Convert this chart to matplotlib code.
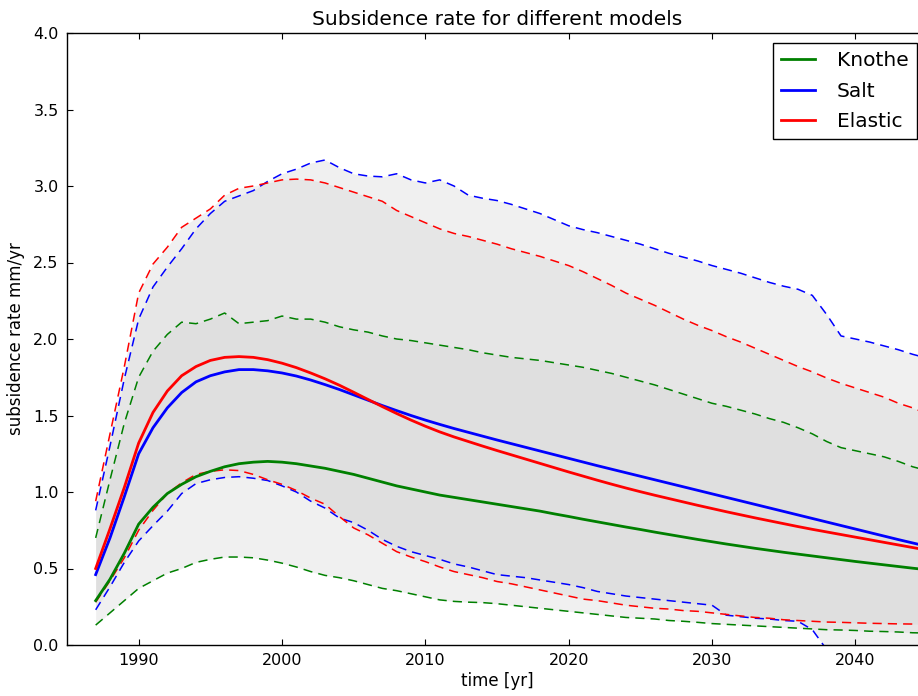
import numpy as np
import matplotlib
matplotlib.use("Agg")
import matplotlib.pyplot as plt

# Yearly subsidence rates (mm/yr), 1987-2045
years = np.arange(1987, 2046)

knothe = [0.29, 0.43, 0.60, 0.79, 0.90, 0.99, 1.05, 1.10, 1.135, 1.165,
          1.185, 1.195, 1.20, 1.195, 1.185, 1.17, 1.155, 1.135, 1.115, 1.09,
          1.065, 1.04, 1.02, 1.00, 0.98, 0.965, 0.95, 0.935, 0.92, 0.905,
          0.89, 0.875, 0.857, 0.84, 0.822, 0.805, 0.788, 0.771, 0.755, 0.738,
          0.722, 0.706, 0.69, 0.675, 0.66, 0.646, 0.632, 0.619, 0.606, 0.594,
          0.582, 0.57, 0.558, 0.546, 0.535, 0.524, 0.513, 0.502, 0.492]
knothe_lo = [0.13, 0.21, 0.29, 0.37, 0.42, 0.47, 0.50, 0.54, 0.56, 0.575,
             0.575, 0.57, 0.555, 0.535, 0.51, 0.48, 0.455, 0.44, 0.42, 0.395,
             0.37, 0.355, 0.335, 0.315, 0.295, 0.285, 0.28, 0.277, 0.27, 0.26,
             0.25, 0.24, 0.23, 0.22, 0.21, 0.20, 0.19, 0.18, 0.175, 0.17,
             0.16, 0.155, 0.148, 0.14, 0.135, 0.13, 0.125, 0.12, 0.115, 0.11,
             0.105, 0.10, 0.098, 0.095, 0.09, 0.088, 0.085, 0.08, 0.078]
knothe_hi = [0.70, 1.08, 1.45, 1.75, 1.92, 2.03, 2.11, 2.10, 2.13, 2.17,
             2.10, 2.11, 2.12, 2.15, 2.13, 2.13, 2.11, 2.08, 2.06, 2.045,
             2.02, 2.00, 1.99, 1.975, 1.96, 1.945, 1.93, 1.91, 1.895, 1.88,
             1.87, 1.86, 1.845, 1.83, 1.815, 1.795, 1.775, 1.75, 1.725, 1.70,
             1.67, 1.64, 1.61, 1.58, 1.56, 1.535, 1.51, 1.48, 1.455, 1.42,
             1.38, 1.33, 1.29, 1.27, 1.25, 1.23, 1.20, 1.165, 1.14]

salt = [0.46, 0.70, 0.97, 1.25, 1.42, 1.55, 1.65, 1.72, 1.76, 1.785,
        1.80, 1.80, 1.792, 1.778, 1.758, 1.732, 1.702, 1.67, 1.635, 1.60,
        1.565, 1.532, 1.50, 1.47, 1.442, 1.415, 1.39, 1.365, 1.34, 1.316,
        1.292, 1.268, 1.244, 1.22, 1.196, 1.172, 1.149, 1.126, 1.103, 1.08,
        1.057, 1.034, 1.011, 0.988, 0.965, 0.942, 0.919, 0.896, 0.873, 0.85,
        0.827, 0.804, 0.781, 0.758, 0.735, 0.712, 0.689, 0.667, 0.645]
salt_lo = [0.23, 0.38, 0.54, 0.68, 0.78, 0.875, 0.99, 1.055, 1.08, 1.095,
           1.10, 1.09, 1.075, 1.04, 1.00, 0.94, 0.895, 0.83, 0.80, 0.75,
           0.69, 0.645, 0.61, 0.585, 0.56, 0.53, 0.51, 0.485, 0.46, 0.45,
           0.44, 0.425, 0.41, 0.395, 0.375, 0.35, 0.335, 0.32, 0.31, 0.30,
           0.29, 0.28, 0.27, 0.26, 0.195, 0.185, 0.175, 0.17, 0.16, 0.155,
           0.10, -0.03, -0.10, -0.10, -0.10, -0.10, -0.10, -0.10, -0.10]
salt_hi = [0.88, 1.30, 1.74, 2.13, 2.34, 2.47, 2.59, 2.72, 2.82, 2.90,
           2.935, 2.97, 3.03, 3.08, 3.11, 3.15, 3.17, 3.12, 3.08, 3.065,
           3.06, 3.08, 3.04, 3.02, 3.04, 3.00, 2.94, 2.92, 2.905, 2.88,
           2.85, 2.82, 2.78, 2.74, 2.715, 2.695, 2.67, 2.645, 2.62, 2.59,
           2.56, 2.535, 2.51, 2.48, 2.455, 2.43, 2.40, 2.37, 2.345, 2.325,
           2.285, 2.16, 2.02, 2.00, 1.98, 1.955, 1.93, 1.90, 1.875]

elastic = [0.50, 0.76, 1.03, 1.32, 1.52, 1.66, 1.76, 1.82, 1.86, 1.88,
           1.885, 1.88, 1.865, 1.842, 1.813, 1.778, 1.74, 1.698, 1.652, 1.605,
           1.558, 1.513, 1.47, 1.43, 1.393, 1.36, 1.33, 1.30, 1.271, 1.243,
           1.215, 1.187, 1.159, 1.131, 1.104, 1.077, 1.051, 1.026, 1.002, 0.979,
           0.957, 0.935, 0.913, 0.892, 0.871, 0.851, 0.831, 0.812, 0.793, 0.774,
           0.756, 0.739, 0.722, 0.705, 0.688, 0.671, 0.654, 0.637, 0.62]
elastic_lo = [0.28, 0.42, 0.57, 0.75, 0.88, 0.99, 1.06, 1.115, 1.135, 1.145,
              1.14, 1.115, 1.08, 1.05, 1.01, 0.96, 0.92, 0.84, 0.765, 0.72,
              0.665, 0.61, 0.575, 0.545, 0.51, 0.48, 0.46, 0.44, 0.415, 0.40,
              0.38, 0.36, 0.34, 0.32, 0.30, 0.29, 0.275, 0.26, 0.25, 0.24,
              0.235, 0.225, 0.22, 0.21, 0.20, 0.19, 0.18, 0.175, 0.165, 0.16,
              0.155, 0.15, 0.148, 0.145, 0.142, 0.14, 0.138, 0.137, 0.135]
elastic_hi = [0.94, 1.38, 1.82, 2.30, 2.49, 2.60, 2.73, 2.79, 2.85, 2.94,
              2.985, 3.00, 3.02, 3.04, 3.045, 3.04, 3.02, 2.99, 2.96, 2.93,
              2.90, 2.84, 2.80, 2.76, 2.72, 2.69, 2.67, 2.645, 2.62, 2.59,
              2.565, 2.54, 2.51, 2.48, 2.44, 2.395, 2.35, 2.30, 2.26, 2.22,
              2.175, 2.13, 2.09, 2.055, 2.015, 1.98, 1.94, 1.90, 1.86, 1.82,
              1.785, 1.745, 1.71, 1.68, 1.65, 1.62, 1.58, 1.55, 1.51]

models = [
    ("Knothe", "#008000", knothe, knothe_lo, knothe_hi),
    ("Salt", "#0000ff", salt, salt_lo, salt_hi),
    ("Elastic", "#ff0000", elastic, elastic_lo, elastic_hi),
]

plt.rcParams["font.family"] = ["DejaVu Sans"]

fig = plt.figure(figsize=(9.18, 6.96), dpi=100)
W, H = 918.0, 696.0
ax = fig.add_axes([67 / W, 51 / H, (927 - 67) / W, (645 - 33) / H])

# uncertainty bands: overlapping translucent fills darken where models agree
for name, color, mid, lo, hi in models:
    ax.fill_between(years, lo, hi, color="#d2d2d2", alpha=0.33, lw=0, zorder=1)

for name, color, mid, lo, hi in models:
    ax.plot(years, lo, color=color, lw=1.1, dashes=(6, 4), zorder=2)
    ax.plot(years, hi, color=color, lw=1.1, dashes=(6, 4), zorder=2)

for name, color, mid, lo, hi in models:
    ax.plot(years, mid, color=color, lw=2.0, label=name, zorder=3)

ax.set_xlim(1985, 2045)
ax.set_ylim(0, 4)
ax.set_xticks([1990, 2000, 2010, 2020, 2030, 2040])
ax.set_yticks(np.arange(0, 4.01, 0.5))
ax.set_yticklabels([f"{v:.1f}" for v in np.arange(0, 4.01, 0.5)])
ax.tick_params(direction="in", top=True, right=True, length=4, width=0.8,
               labelsize=11.5, pad=6)
for s in ax.spines.values():
    s.set_linewidth(1.0)

ax.set_title("Subsidence rate for different models", fontsize=14.5, pad=6)
ax.set_xlabel("time [yr]", fontsize=12, labelpad=3)
ax.set_ylabel("subsidence rate mm/yr", fontsize=12, labelpad=6)

leg = ax.legend(loc="upper right", fontsize=14.5, fancybox=False,
                framealpha=1, edgecolor="black", handlelength=1.7,
                handletextpad=1.1, borderpad=0.4, labelspacing=0.57)
leg.get_frame().set_linewidth(1.0)

fig.savefig("out.png", dpi=100)
